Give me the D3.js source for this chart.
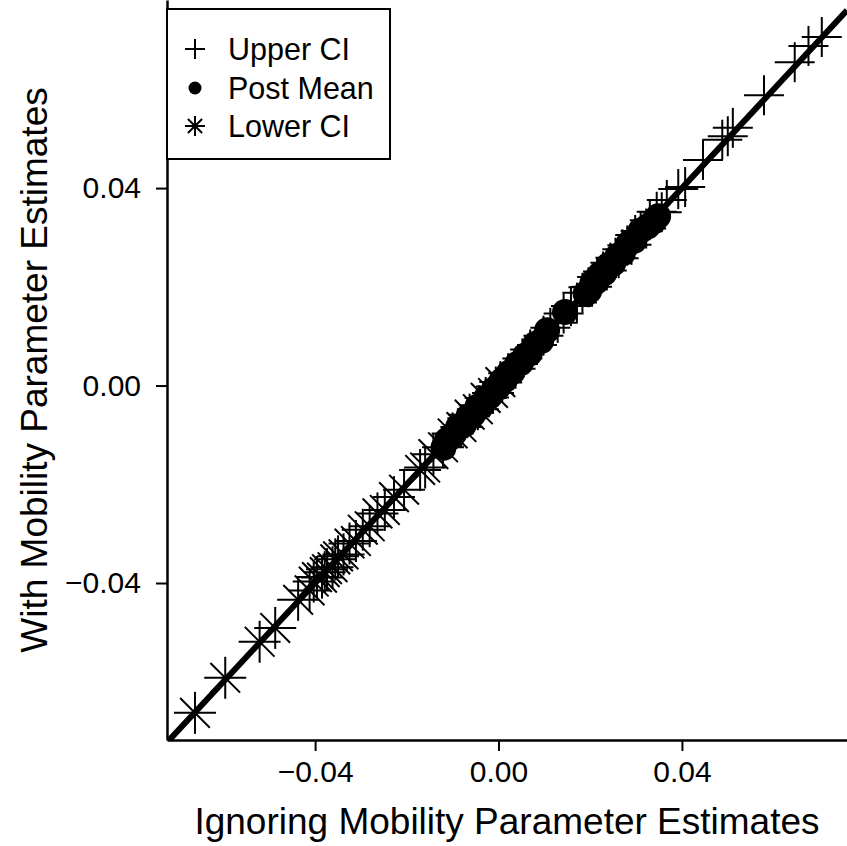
<!DOCTYPE html>
<html>
<head>
<meta charset="utf-8">
<script src="https://cdn.jsdelivr.net/npm/d3@7"></script>
<style>
  body { margin: 0; background: #fff; }
  text { font-family: "Liberation Sans", Arial, sans-serif; fill: #000; }
</style>
</head>
<body>
<svg id="chart" width="847" height="846"></svg>
<script>
// axis limits (plot region runs off the right and top edge)
const xLim = [-0.0723, 0.0760];
const yLim = [-0.0718, 0.0781];
const tickVals = [-0.04, 0, 0.04];

// upper CI (+)
const upperX = [0.0705, 0.0676, 0.0646, 0.0579, 0.0511, 0.0500, 0.0488, 0.0446, 0.0407, 0.0392,
  0.0367, 0.0356, 0.0345, 0.0330, 0.0322, 0.0310, 0.0298, 0.0290, 0.0281, 0.0270,
  0.0262, 0.0255, 0.0244, 0.0236, 0.0228, 0.0215, 0.0204, 0.0196, 0.0183, 0.0171,
  0.0158, 0.0142, 0.0129, 0.0113, 0.0098, 0.0084, 0.0069, 0.0052, 0.0037, 0.0021,
  0.0008, -0.0006, -0.0021, -0.0043, -0.0068];
const upperY = [0.0706, 0.0688, 0.0655, 0.0588, 0.0522, 0.0505, 0.0498, 0.0457, 0.0402, 0.0398,
  0.0376, 0.0351, 0.0352, 0.0335, 0.0318, 0.0313, 0.0305, 0.0285, 0.0284, 0.0276,
  0.0258, 0.0259, 0.0249, 0.0233, 0.0231, 0.0220, 0.0200, 0.0199, 0.0188, 0.0168,
  0.0161, 0.0146, 0.0127, 0.0117, 0.0101, 0.0082, 0.0073, 0.0055, 0.0034, 0.0025,
  0.0006, -0.0002, -0.0024, -0.0040, -0.0066];

// posterior mean (filled circles)
const meanX = [-0.0120, -0.0112, -0.0104, -0.0097, -0.0088, -0.0075, -0.0066, -0.0055, -0.0046, -0.0037,
  -0.0028, -0.0019, -0.0010, -0.0002, 0.0006, 0.0014, 0.0023, 0.0031, 0.0040, 0.0049,
  0.0058, 0.0068, 0.0080, 0.0093, 0.0106, 0.0145, 0.0190, 0.0198, 0.0205, 0.0214,
  0.0222, 0.0231, 0.0240, 0.0250, 0.0260, 0.0271, 0.0283, 0.0296, 0.0310, 0.0325,
  0.0338, 0.0348];
const meanY = [-0.0126, -0.0110, -0.0105, -0.0098, -0.0084, -0.0079, -0.0063, -0.0058, -0.0043, -0.0041,
  -0.0026, -0.0022, -0.0008, -0.0005, 0.0009, 0.0011, 0.0026, 0.0028, 0.0043, 0.0046,
  0.0061, 0.0065, 0.0084, 0.0090, 0.0112, 0.0149, 0.0186, 0.0192, 0.0209, 0.0211,
  0.0226, 0.0228, 0.0244, 0.0247, 0.0263, 0.0268, 0.0287, 0.0293, 0.0314, 0.0322,
  0.0332, 0.0343];

// lower CI (asterisks)
const lowerX = [-0.0662, -0.0596, -0.0521, -0.0487, -0.0437, -0.0412, -0.0403, -0.0396, -0.0385, -0.0379,
  -0.0374, -0.0362, -0.0356, -0.0350, -0.0338, -0.0325, -0.0311, -0.0296, -0.0281, -0.0264,
  -0.0248, -0.0228, -0.0206, -0.0171, -0.0160, -0.0142, -0.0121, -0.0100, -0.0081, -0.0063,
  -0.0045, -0.0028, -0.0012, 0.0004];
const lowerY = [-0.0663, -0.0592, -0.0519, -0.0491, -0.0434, -0.0415, -0.0397, -0.0388, -0.0389, -0.0378,
  -0.0372, -0.0368, -0.0352, -0.0346, -0.0342, -0.0320, -0.0315, -0.0292, -0.0285, -0.0259,
  -0.0252, -0.0226, -0.0211, -0.0171, -0.0166, -0.0139, -0.0125, -0.0097, -0.0084, -0.0059,
  -0.0048, -0.0025, -0.0015, 0.0007];

const legendLabels = ["Upper CI", "Post Mean", "Lower CI"];

const pLeft = 167, pRight = 847, pTop = 0, pBottom = 740;

const x = d3.scaleLinear().domain(xLim).range([pLeft, pRight]);
const y = d3.scaleLinear().domain(yLim).range([pBottom, pTop]);

const svg = d3.select("#chart");

svg.append("clipPath").attr("id", "plotclip")
  .append("rect").attr("x", pLeft).attr("y", pTop)
  .attr("width", pRight - pLeft).attr("height", pBottom - pTop);

const plot = svg.append("g").attr("clip-path", "url(#plotclip)");

const fmt = d => d === 0 ? "0.00" : (d < 0 ? "\u2212" : "") + Math.abs(d).toFixed(2);

// marker shapes
function plus(g, s) {
  g.append("line").attr("x1", -s).attr("x2", s).attr("y1", 0).attr("y2", 0);
  g.append("line").attr("x1", 0).attr("x2", 0).attr("y1", -s).attr("y2", s);
}
function star(g, s) {
  plus(g, s);
  const d = s * Math.SQRT1_2;
  g.append("line").attr("x1", -d).attr("x2", d).attr("y1", -d).attr("y2", d);
  g.append("line").attr("x1", -d).attr("x2", d).attr("y1", d).attr("y2", -d);
}

const upper = upperX.map((v, i) => [v, upperY[i]]);
const mean = meanX.map((v, i) => [v, meanY[i]]);
const lower = lowerX.map((v, i) => [v, lowerY[i]]);

plot.selectAll("g.up").data(upper).enter().append("g")
  .attr("class", "up")
  .attr("transform", d => `translate(${x(d[0])},${y(d[1])})`)
  .attr("stroke", "#000").attr("stroke-width", 2)
  .each(function() { plus(d3.select(this), 20); });

plot.selectAll("circle.mean").data(mean).enter().append("circle")
  .attr("class", "mean")
  .attr("cx", d => x(d[0])).attr("cy", d => y(d[1]))
  .attr("r", 13).attr("fill", "#000");

plot.selectAll("g.low").data(lower).enter().append("g")
  .attr("class", "low")
  .attr("transform", d => `translate(${x(d[0])},${y(d[1])})`)
  .attr("stroke", "#000").attr("stroke-width", 2)
  .each(function() { star(d3.select(this), 21); });

// y = x reference line
plot.append("line")
  .attr("x1", x(xLim[0])).attr("y1", y(xLim[0]))
  .attr("x2", x(xLim[1])).attr("y2", y(xLim[1]))
  .attr("stroke", "#000").attr("stroke-width", 6);

// axes
const xAxis = svg.append("g").attr("transform", `translate(0,${pBottom})`)
  .call(d3.axisBottom(x).tickValues(tickVals).tickFormat(fmt).tickSizeOuter(0).tickSizeInner(11).tickPadding(10));
const yAxis = svg.append("g").attr("transform", `translate(${pLeft},0)`)
  .call(d3.axisLeft(y).tickValues(tickVals).tickFormat(fmt).tickSizeOuter(0).tickSizeInner(11).tickPadding(15));

[xAxis, yAxis].forEach(a => {
  a.select(".domain").attr("stroke-width", 2.5);
  a.selectAll(".tick line").attr("stroke-width", 2);
  a.selectAll(".tick text").attr("font-size", 30).attr("font-family", "Liberation Sans, Arial, sans-serif");
});

svg.append("text")
  .attr("x", (pLeft + pRight) / 2).attr("y", 834)
  .attr("text-anchor", "middle").attr("font-size", 37)
  .text("Ignoring Mobility Parameter Estimates");

svg.append("text")
  .attr("transform", `translate(47,${(pTop + pBottom) / 2}) rotate(-90)`)
  .attr("text-anchor", "middle").attr("font-size", 37)
  .text("With Mobility Parameter Estimates");

// legend
const leg = svg.append("g");
leg.append("rect").attr("x", pLeft).attr("y", 9).attr("width", 223).attr("height", 150)
  .attr("fill", "#fff").attr("stroke", "#000").attr("stroke-width", 2);

const rows = [49, 88, 126];
legendLabels.forEach((lab, i) => {
  const g = leg.append("g").attr("transform", `translate(195,${rows[i]})`)
    .attr("stroke", "#000").attr("stroke-width", 2);
  if (i === 0) plus(g, 10);
  else if (i === 1) g.append("circle").attr("r", 6.5).attr("fill", "#000").attr("stroke", "none");
  else star(g, 10);
  leg.append("text").attr("x", 228).attr("y", rows[i])
    .attr("dy", "0.35em").attr("font-size", 30.5).text(lab);
});
</script>
</body>
</html>
